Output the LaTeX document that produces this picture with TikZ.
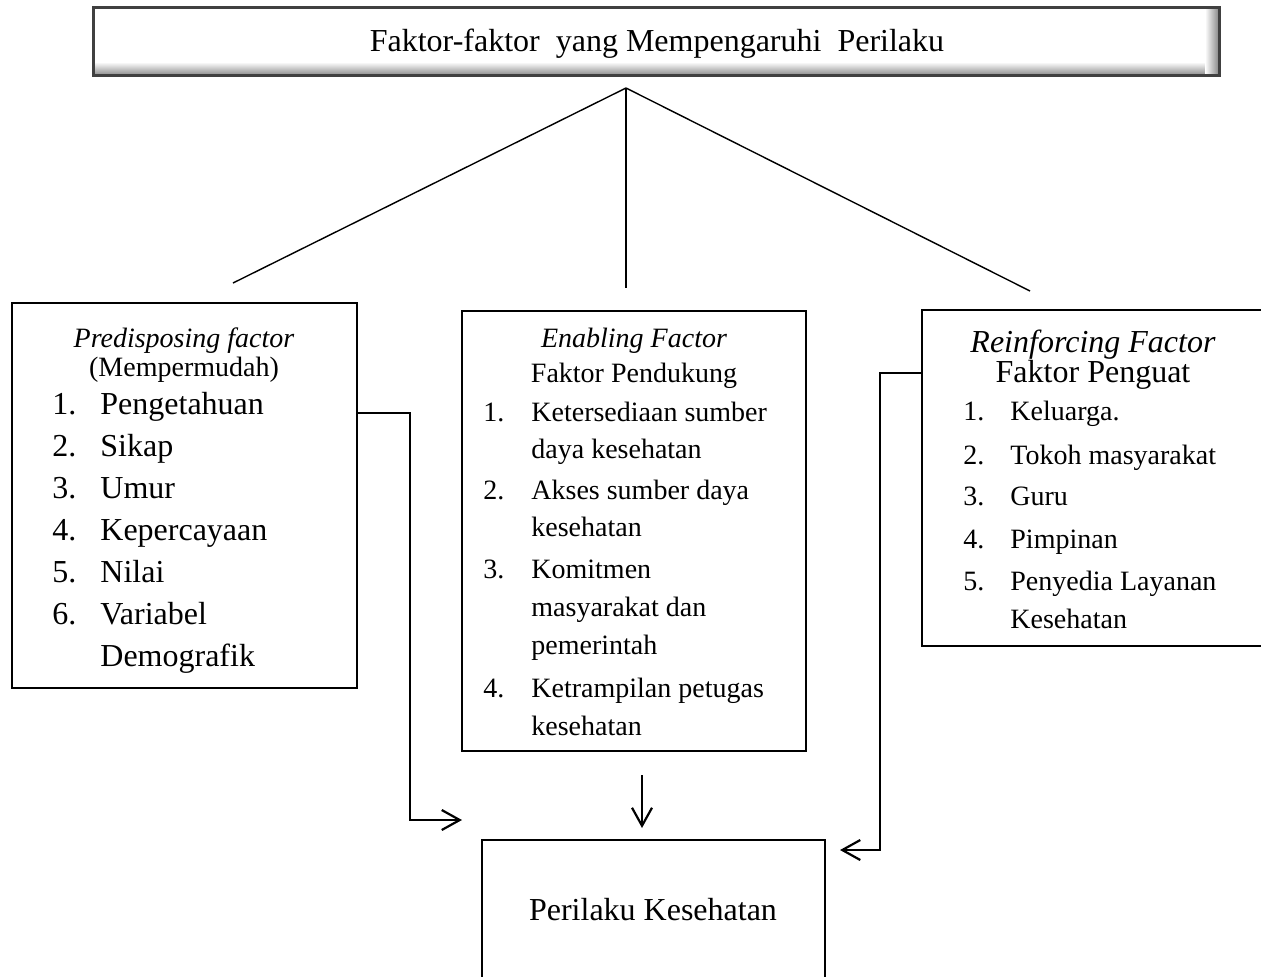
\documentclass[tikz,border=0pt]{standalone}
\usepackage{fontspec}
\setmainfont{Liberation Serif}
\usetikzlibrary{arrows.meta}
\usetikzlibrary{fit}
\usetikzlibrary{positioning}

\tikzset{
  frame/.style={draw, line width=0.7pt, inner sep=0pt},
  big/.style={font=\fontsize{16}{19}\selectfont},
  mid/.style={font=\fontsize{14}{17}\selectfont},
  txt/.style={inner sep=0pt, anchor=base west},
  ctr/.style={inner sep=0pt, anchor=base},
  flow/.style={->, line width=1.1pt},
  branch/.style={line width=0.7pt},
}

\begin{document}
\begin{tikzpicture}[x=0.5pt,y=-0.5pt,>={Straight Barb[length=9pt,width=10pt]}]
      \useasboundingbox (0,0) rectangle (1261,976);

      % judul
      \node[fit={(94,8) (1219,75)}, inner sep=0pt] (top) {};
      \shade[top color=white, bottom color=black!45] (95,62) rectangle (1218,75);
      \shade[left color=white, right color=black!45] (1205,9) rectangle (1218,75);
      \draw[line width=1.5pt, black!75] (top.south west) rectangle (top.north east);
      \node[ctr, big] (title) at (657,51) {Faktor-faktor\ \ yang Mempengaruhi\ \ Perilaku};

      % cabang
      \coordinate (apex) at (626,88);
      \coordinate (cL) at (233,283);
      \coordinate (cM) at (626,288);
      \coordinate (cR) at (1030,291);
      \draw[branch] (apex) -- (cL);
      \draw[branch] (apex) -- (cM);
      \draw[branch] (apex) -- (cR);

      % kotak faktor
      \node[frame, fit={(12,303) (357,688)}] (pre) {};
      \node[frame, fit={(462,311) (806,751)}] (ena) {};
      \node[frame, fit={(922,310) (1266,646)}] (rei) {};
      \node[frame, fit={(482,840) (825,990)}] (hasil) {};

      % predisposing
      \node[ctr, mid] (preA) at (184,347) {\textit{Predisposing factor}};
      \node[ctr, mid] (preB) at (184,376) {(Mempermudah)};
      \foreach \y/\n [count=\i] in {414/1., 456/2., 498/3., 540/4., 582/5., 624/6.}
        \node[txt, big] (preN\i) at (52,\y) {\n};
      \foreach \y/\t [count=\i] in {414/Pengetahuan, 456/Sikap, 498/Umur,
          540/Kepercayaan, 582/Nilai, 624/Variabel, 666/Demografik}
        \node[txt, big] (preL\i) at (100,\y) {\t};

      % enabling
      \node[ctr, mid] (enaA) at (634,347) {\textit{Enabling Factor}};
      \node[ctr, mid] (enaB) at (634,382) {Faktor Pendukung};
      \foreach \y/\n [count=\i] in {421/1., 499/2., 578/3., 697/4.}
        \node[txt, mid] (enaN\i) at (483,\y) {\n};
      \foreach \y/\t [count=\i] in {421/Ketersediaan sumber, 458/daya kesehatan,
          499/Akses sumber daya, 536/kesehatan, 578/Komitmen, 616/masyarakat dan,
          654/pemerintah, 697/Ketrampilan petugas, 735/kesehatan}
        \node[txt, mid] (enaL\i) at (531,\y) {\t};

      % reinforcing
      \node[ctr, big] (reiA) at (1093,352) {\textit{Reinforcing Factor}};
      \node[ctr, big] (reiB) at (1093,382) {Faktor Penguat};
      \foreach \y/\n [count=\i] in {420/1., 464/2., 505/3., 548/4., 590/5.}
        \node[txt, mid] (reiN\i) at (963,\y) {\n};
      \foreach \y/\t [count=\i] in {420/Keluarga., 464/Tokoh masyarakat, 505/Guru,
          548/Pimpinan, 590/Penyedia Layanan, 628/Kesehatan}
        \node[txt, mid] (reiL\i) at (1010,\y) {\t};

      % hasil
      \node[ctr, big] (hasilT) at (653,920) {Perilaku Kesehatan};

      % panah
      \coordinate (kL) at (410,413);
      \coordinate (inL) at (462,820);
      \coordinate (mA) at (642,775);
      \coordinate (mB) at (642,828);
      \coordinate (kR) at (880,373);
      \coordinate (inR) at (840,850);
      \draw[flow] (pre.east |- kL) -- (kL) |- (inL);
      \draw[flow] (mA) -- (mB);
      \draw[flow] (rei.west |- kR) -- (kR) |- (inR);
\end{tikzpicture}
\end{document}
